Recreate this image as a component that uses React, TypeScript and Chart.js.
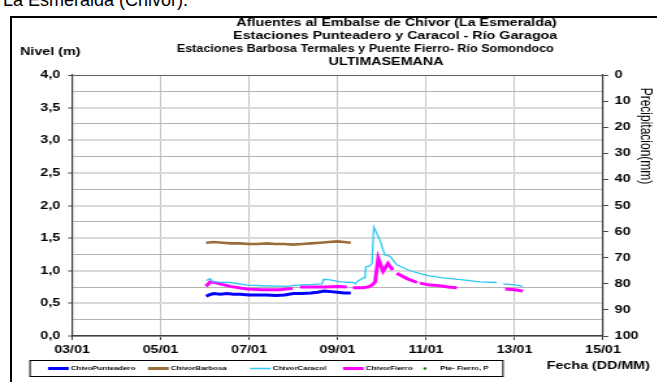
import React, { useEffect, useRef } from "react";
import { Chart, registerables } from "chart.js";
Chart.register(...registerables);

// ---- data ----
const xTickDays = [3, 5, 7, 9, 11, 13, 15];
const xTickLabels = ["03/01", "05/01", "07/01", "09/01", "11/01", "13/01", "15/01"];
const levelTickValues = [0, 0.5, 1, 1.5, 2, 2.5, 3, 3.5, 4];
const levelTickLabels = ["0,0", "0,5", "1,0", "1,5", "2,0", "2,5", "3,0", "3,5", "4,0"];

const punteaderoDays = [6.03, 6.1, 6.2, 6.35, 6.5, 6.65, 6.8, 7.0, 7.2, 7.4, 7.6, 7.8, 8.0, 8.2, 8.4, 8.55, 8.7, 8.85, 9.0, 9.15, 9.3];
const punteaderoLevels = [0.61, 0.63, 0.65, 0.64, 0.65, 0.64, 0.64, 0.63, 0.63, 0.63, 0.62, 0.63, 0.65, 0.65, 0.66, 0.67, 0.69, 0.68, 0.67, 0.66, 0.66];

const barbosaDays = [6.03, 6.2, 6.4, 6.6, 6.8, 7.0, 7.2, 7.4, 7.6, 7.8, 8.0, 8.2, 8.4, 8.6, 8.8, 9.0, 9.15, 9.3];
const barbosaLevels = [1.43, 1.44, 1.43, 1.42, 1.42, 1.41, 1.41, 1.42, 1.41, 1.41, 1.4, 1.41, 1.42, 1.43, 1.44, 1.45, 1.44, 1.43];

const caracolDays = [6.03, 6.12, 6.19, 6.57, 6.95, 7.32, 7.86, 8.08, 8.45, 8.65, 8.69, 8.83, 9.06, 9.35, 9.4, 9.46, 9.58, 9.62, 9.64, 9.72, 9.78, 9.82, 9.96, 10.07, 10.19, 10.34, 10.64, 11.02, 11.38, 11.84, 12.22, 12.6, 12.67, 12.74, 13.06, 13.19];
const caracolLevels = [0.85, 0.88, 0.83, 0.82, 0.78, 0.77, 0.76, 0.78, 0.79, 0.8, 0.87, 0.86, 0.83, 0.82, 0.8, 0.84, 0.89, 0.89, 1.06, 1.07, 1.11, 1.67, 1.47, 1.24, 1.22, 1.09, 1.0, 0.93, 0.89, 0.86, 0.83, 0.82, null, 0.8, 0.78, 0.76];

const fierroDays = [6.03, 6.12, 6.28, 6.57, 6.95, 7.3, 7.7, 7.99, 8.07, 8.15, 8.45, 8.72, 9.0, 9.21, 9.28, 9.35, 9.55, 9.69, 9.78, 9.85, 9.92, 10.03, 10.14, 10.25, 10.3, 10.34, 10.57, 10.8, 10.83, 10.86, 11.1, 11.32, 11.5, 11.7, 12.3, 12.79, 13.0, 13.19];
const fierroLevels = [0.76, 0.83, 0.81, 0.76, 0.72, 0.71, 0.71, 0.73, null, 0.75, 0.75, 0.75, 0.76, 0.75, null, 0.74, 0.74, 0.75, 0.78, 0.83, 1.19, 0.99, 1.11, 1.01, null, 0.96, 0.88, 0.82, null, 0.81, 0.78, 0.77, 0.75, 0.74, null, 0.72, 0.71, 0.69];

const precipDays: number[] = [];
const precipMm: number[] = [];

const seriesLabels = ["ChivoPunteadero", "ChivorBarbosa", "ChivorCaracol", "ChivorFierro", "Pte- Fierro, P"];
const seriesColors = ["#0000ff", "#9c6b3c", "#2ec8f4", "#ff00ff", "#008000"];

const titleLines = [
  "Afluentes al Embalse de Chivor (La Esmeralda)",
  "Estaciones Punteadero y Caracol - Río Garagoa",
  "Estaciones Barbosa Termales y Puente Fierro- Río Somondoco",
  "ULTIMASEMANA",
];

// ---- layout ----
const SX = 1.3;
const CW = 505;
const CH = 382;
const FONT = "'Liberation Sans', Arial, sans-serif";

const toXY = (days: number[], vals: (number | null)[]) => days.map((d, i) => ({ x: d, y: vals[i] }));

const decorPlugin = {
  id: "decor",
  afterDraw(chart: any) {
    const ctx = chart.ctx;
    ctx.save();
    ctx.fillStyle = "#000";
    ctx.textBaseline = "middle";
    // title
    ctx.font = `bold 11px ${FONT}`;
    ctx.textAlign = "center";
    const tCx = [305, 304, 281, 297];
    const tY = [23, 36, 49, 62];
    const tMax = [400, 400, 290, 400];
    titleLines.forEach((t, i) => ctx.fillText(t, tCx[i], tY[i], tMax[i]));
    // axis titles
    ctx.textAlign = "left";
    ctx.fillText("Nivel (m)", 15.4, 52);
    ctx.fillText("Fecha (DD/MM)", 420.5, 366);
    ctx.save();
    ctx.font = `12px ${FONT}`;
    ctx.translate(496.5, 136);
    ctx.rotate(Math.PI / 2);
    ctx.textAlign = "center";
    ctx.fillText("Precipitacion(mm)", 0, 0);
    ctx.restore();
    // legend
    ctx.strokeStyle = "#000";
    ctx.lineWidth = 1;
    ctx.strokeRect(23.1, 360.5, 363.8, 16);
    const lx = [36.9, 113.8, 192.3, 263.8, 326.9];
    const ly = 368.5;
    ctx.font = `bold 6px ${FONT}`;
    chart.data.datasets.forEach((ds: any, i: number) => {
      const x = lx[i];
      if (i < 4) {
        ctx.strokeStyle = ds.borderColor;
        ctx.lineWidth = i === 2 ? 1.5 : 3;
        ctx.beginPath();
        ctx.moveTo(x, ly);
        ctx.lineTo(x + 16, ly);
        ctx.stroke();
        ctx.fillStyle = "#000";
        ctx.fillText(ds.label, x + 17.5, ly);
      } else {
        ctx.fillStyle = ds.backgroundColor;
        ctx.beginPath();
        ctx.arc(x, ly, 1.2, 0, Math.PI * 2);
        ctx.fill();
        ctx.fillStyle = "#000";
        ctx.fillText(ds.label, x + 11.5, ly);
      }
    });
    ctx.restore();
  },
};

export default function App() {
  const ref = useRef<HTMLCanvasElement | null>(null);
  useEffect(() => {
    if (!ref.current) return;
    Chart.defaults.font.family = FONT;
    const lineSets = [
      [punteaderoDays, punteaderoLevels, 3],
      [barbosaDays, barbosaLevels, 2.6],
      [caracolDays, caracolLevels, 1.3],
      [fierroDays, fierroLevels, 3],
    ] as const;
    const datasets: any[] = lineSets.map(([d, v, w], i) => ({
      type: "line",
      label: seriesLabels[i],
      data: toXY(d as number[], v as (number | null)[]),
      borderColor: seriesColors[i],
      backgroundColor: seriesColors[i],
      borderWidth: w,
      pointRadius: 0,
      spanGaps: false,
      tension: 0,
      yAxisID: "y",
    }));
    datasets.push({
      type: "scatter",
      label: seriesLabels[4],
      data: toXY(precipDays, precipMm),
      borderColor: seriesColors[4],
      backgroundColor: seriesColors[4],
      pointRadius: 1.5,
      yAxisID: "y2",
    });
    const isMajor = (v: number) => Math.abs(v * 2 - Math.round(v * 2)) < 1e-6;
    const chart = new Chart(ref.current, {
      type: "line",
      data: { datasets },
      options: {
        responsive: false,
        animation: false,
        devicePixelRatio: 1,
        layout: { padding: { top: 75, bottom: 21, left: 0, right: 0 } },
        plugins: { legend: { display: false }, title: { display: false }, tooltip: { enabled: false } },
        scales: {
          x: {
            type: "linear",
            min: 3,
            max: 15,
            afterFit: (s: any) => { s.height = 25; },
            afterBuildTicks: (s: any) => { s.ticks = xTickDays.map((v) => ({ value: v })); },
            ticks: {
              autoSkip: false,
              maxRotation: 0,
              padding: 3,
              color: "#000",
              font: { size: 11, weight: "bold" },
              callback: (v: any) => xTickLabels[xTickDays.indexOf(Number(v))] ?? "",
            },
            grid: { color: "#c4c4c4", lineWidth: 1, tickLength: 4, tickColor: "#404040" },
            border: { color: "#404040", width: 1.5 },
          },
          y: {
            position: "left",
            min: 0,
            max: 4,
            afterFit: (s: any) => { s.width = 55.4; },
            ticks: {
              stepSize: 0.25,
              autoSkip: false,
              padding: 6,
              color: "#000",
              font: { size: 11, weight: "bold" },
              callback: (v: any) => {
                const i = levelTickValues.findIndex((t) => Math.abs(t - Number(v)) < 1e-6);
                return i >= 0 ? levelTickLabels[i] : "";
              },
            },
            grid: {
              color: (c: any) => {
                const v = c.tick ? c.tick.value : 0;
                if (Math.abs(v - 4) < 1e-6) return "#606060";
                return isMajor(v) ? "#dadada" : "#b4b4b4";
              },
              lineWidth: (c: any) => {
                const v = c.tick ? c.tick.value : 0;
                if (Math.abs(v - 4) < 1e-6) return 1;
                return isMajor(v) ? 2 : 1;
              },
              tickLength: 3,
              tickWidth: 1,
              tickColor: (c: any) => (c.tick && isMajor(c.tick.value) ? "#404040" : "rgba(0,0,0,0)"),
            },
            border: { color: "#404040", width: 1.2 },
          },
          y2: {
            position: "right",
            min: 0,
            max: 100,
            reverse: true,
            afterFit: (s: any) => { s.width = 41.2; },
            ticks: {
              stepSize: 10,
              autoSkip: false,
              padding: 5,
              color: "#000",
              font: { size: 11, weight: "bold" },
            },
            grid: { drawOnChartArea: false, tickLength: 4, tickColor: "#404040", tickWidth: 1 },
            border: { color: "#404040", width: 1.2 },
          },
        },
      } as any,
      plugins: [decorPlugin],
    });
    return () => chart.destroy();
  }, []);

  return (
    <div>
      <div
        style={{
          position: "absolute",
          left: 3,
          top: -9,
          fontFamily: FONT,
          fontSize: 18,
          lineHeight: "18px",
          color: "#000",
          whiteSpace: "nowrap",
        }}
      >
        La Esmeralda (Chivor).
      </div>
      <div
        style={{
          position: "absolute",
          left: 10,
          top: 16,
          width: 700,
          height: 420,
          border: "2px solid #000",
          boxSizing: "border-box",
        }}
      />
      <div
        style={{
          position: "absolute",
          left: 0,
          top: 0,
          width: CW,
          height: CH,
          transform: `scaleX(${SX})`,
          transformOrigin: "0 0",
        }}
      >
        <canvas ref={ref} width={CW} height={CH} style={{ display: "block" }} />
      </div>
    </div>
  );
}
